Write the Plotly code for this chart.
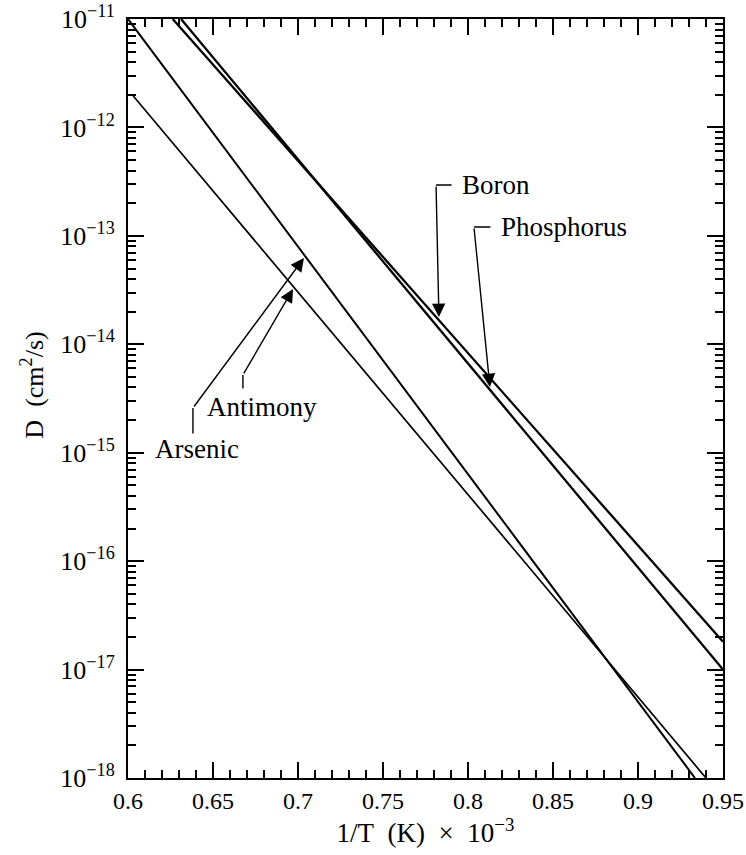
import plotly.graph_objects as go

# Data (1/T in units of 1e-3 K^-1, D in cm^2/s)
boron_x = [0.6263, 0.95]
boron_d = [1e-11, 1.81e-17]
phosphorus_x = [0.6312, 0.95]
phosphorus_d = [1e-11, 1e-17]
arsenic_x = [0.6, 0.9335]
arsenic_d = [1e-11, 1e-18]
antimony_x = [0.6, 0.6025, 0.94]
antimony_d = [2e-12, 2e-12, 1e-18]

x_ticks = [0.6, 0.65, 0.7, 0.75, 0.8, 0.85, 0.9, 0.95]
x_tick_labels = ["0.6", "0.65", "0.7", "0.75", "0.8", "0.85", "0.9", "0.95"]
y_ticks = [1e-18, 1e-17, 1e-16, 1e-15, 1e-14, 1e-13, 1e-12, 1e-11]
y_tick_labels = ["10<sup>−18</sup>", "10<sup>−17</sup>", "10<sup>−16</sup>",
                 "10<sup>−15</sup>", "10<sup>−14</sup>", "10<sup>−13</sup>",
                 "10<sup>−12</sup>", "10<sup>−11</sup>"]

FONT = "Liberation Serif, Times New Roman, serif"

fig = go.Figure()
for xs, ds, w in [(boron_x, boron_d, 2.3), (phosphorus_x, phosphorus_d, 2.3),
                  (arsenic_x, arsenic_d, 2.0), (antimony_x, antimony_d, 1.7)]:
    fig.add_trace(go.Scatter(x=xs, y=ds, mode="lines",
                             line=dict(color="black", width=w),
                             showlegend=False, hoverinfo="skip"))

# leader lines: (tip_x, tip_logy, bend_x, bend_logy, end_x, end_logy)
leaders = [
    (0.7829, -13.748, 0.7812, -12.531, 0.7912, -12.531),   # Boron
    (0.8129, -14.394, 0.8035, -12.918, 0.8141, -12.918),   # Phosphorus
    (0.7035, -13.204, 0.6382, -14.588, 0.6382, -14.837),   # Arsenic
    (0.6971, -13.490, 0.6676, -14.283, 0.6676, -14.422),   # Antimony
]
labels = [
    ("Boron", 0.7953, -12.531),
    ("Phosphorus", 0.8182, -12.918),
    ("Arsenic", 0.6147, -14.966),
    ("Antimony", 0.6453, -14.578),
]

annotations = []
for tx, ty, bx, by, ex, ey in leaders:
    annotations.append(dict(x=tx, y=ty, ax=bx, ay=by, xref="x", yref="y",
                            axref="x", ayref="y", text="", showarrow=True,
                            arrowhead=2, arrowsize=1.9, arrowwidth=1.4,
                            arrowcolor="black"))
    annotations.append(dict(x=bx, y=by, ax=ex, ay=ey, xref="x", yref="y",
                            axref="x", ayref="y", text="", showarrow=True,
                            arrowhead=0, arrowwidth=1.4, arrowcolor="black"))
for txt, lx, ly in labels:
    annotations.append(dict(x=lx, y=ly, xref="x", yref="y", text=txt,
                            showarrow=False, xanchor="left", yanchor="middle",
                            font=dict(family=FONT, size=27, color="black")))

# y-axis title placed as rotated text
annotations.append(dict(x=-0.16, y=0.518, xref="paper", yref="paper",
                        text="D\u2002(cm<sup>2</sup>/s)", textangle=-90,
                        showarrow=False, xanchor="center", yanchor="middle",
                        font=dict(family=FONT, size=26, color="black")))

fig.update_layout(
    width=746, height=855,
    margin=dict(l=128, r=23, t=19, b=77),
    paper_bgcolor="white", plot_bgcolor="white",
    font=dict(family=FONT, size=24, color="black"),
    annotations=annotations,
    xaxis=dict(
        range=[0.6, 0.95], tickvals=x_ticks, ticktext=x_tick_labels,
        ticks="inside", ticklen=16, tickwidth=1.5, tickcolor="black",
        showline=True, linecolor="black", linewidth=2, mirror="allticks",
        showgrid=False, zeroline=False, automargin=False,
        minor=dict(dtick=0.01, ticks="inside", ticklen=8, tickwidth=1.5,
                   tickcolor="black", showgrid=False),
        tickfont=dict(family=FONT, size=24),
        title=dict(text="1/T\u2002(K)\u2002×\u200210<sup>−3</sup>",
                   font=dict(family=FONT, size=27), standoff=10),
    ),
    yaxis=dict(
        type="log", range=[-18, -11], tickvals=y_ticks, ticktext=y_tick_labels,
        ticks="inside", ticklen=16, tickwidth=1.5, tickcolor="black",
        showline=True, linecolor="black", linewidth=2, mirror="allticks",
        showgrid=False, zeroline=False, automargin=False,
        ticklabelstandoff=6,
        minor=dict(dtick="D1", ticks="inside", ticklen=8, tickwidth=1.5,
                   tickcolor="black", showgrid=False),
        tickfont=dict(family=FONT, size=26),
    ),
)

fig.write_html("out.html", config={"displayModeBar": False},
               post_script="document.body.style.margin='0';")
